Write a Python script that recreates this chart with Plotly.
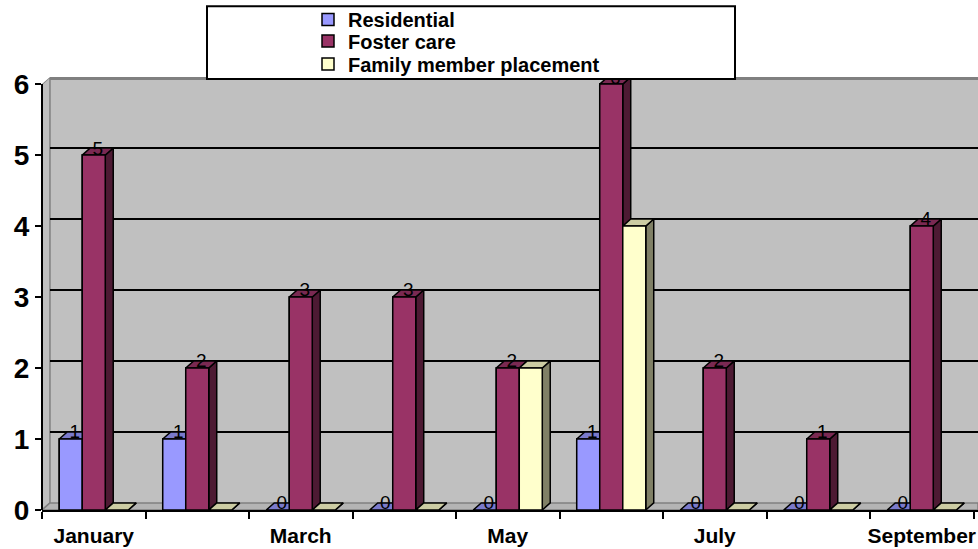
import plotly.graph_objects as go

months = ["January", "February", "March", "April", "May", "June", "July", "August", "September"]
residential = [1, 1, 0, 0, 0, 1, 0, 0, 0]
foster_care = [5, 2, 3, 3, 2, 6, 2, 1, 4]
family_member = [0, 0, 0, 0, 2, 4, 0, 0, 0]
y_ticks = [0, 1, 2, 3, 4, 5, 6]

series = [
    ("Residential", residential, "#9999FF", "#4D4D80", "#7A7ACC", True),
    ("Foster care", foster_care, "#993366", "#4D1A33", "#7A2952", True),
    ("Family member placement", family_member, "#FFFFCC", "#808066", "#CCCCA3", False),
]

FONT = "Arial, Liberation Sans, sans-serif"
W, H = 978, 549
ML, MR, MT, MB = 42, 0, 76, 39
BARGAP = 0.333
w = (1 - BARGAP) / 3
DX, DY = 0.077, 0.1
XMIN = -0.5
XMAX = XMIN + (W - ML - MR) / 103.5
YMAX = max(y_ticks) + DY

xs = list(range(len(months)))
fig = go.Figure()

legends = ["legend", "legend2", "legend3"]
for k, (name, vals, front, side, top, lab) in enumerate(series):
    fig.add_trace(go.Bar(
        x=xs, y=vals, name=name, marker=dict(color=front, line=dict(color="black", width=1.5)),
        legend=legends[k], hoverinfo="skip"))

for k, (name, vals, front, side, top, lab) in enumerate(series):
    off = (k - 1) * w
    sx, sy, tx, ty, fx, fy = [], [], [], [], [], []
    for i, v in enumerate(vals):
        xl = i + off - w / 2
        xr = i + off + w / 2
        sx += [xr, xr + DX, xr + DX, xr, xr, None]
        sy += [0, DY, v + DY, v, 0, None]
        tx += [xl, xl + DX, xr + DX, xr, xl, None]
        ty += [v, v + DY, v + DY, v, v, None]
        if v > 0:
            fx += [xl, xr, xr, xl, xl, None]
            fy += [0, 0, v, v, 0, None]
    for px, py, col in [(sx, sy, side), (tx, ty, top), (fx, fy, front)]:
        fig.add_trace(go.Scatter(
            x=px, y=py, mode="lines", fill="toself", fillcolor=col,
            line=dict(color="black", width=1.5), showlegend=False, hoverinfo="skip"))

for k, (name, vals, front, side, top, lab) in enumerate(series):
    if not lab:
        continue
    off = (k - 1) * w
    fig.add_trace(go.Scatter(
        x=[i + off + DX / 2 for i in xs], y=[v + 0.075 for v in vals],
        mode="text", text=[str(v) for v in vals], textposition="middle center",
        textfont=dict(family=FONT, size=19, color="black"),
        showlegend=False, hoverinfo="skip"))

shapes = []
# left wall
shapes.append(dict(type="path", xref="x", yref="y", layer="below",
                   path=f"M{XMIN},0 L{XMIN+DX},{DY} L{XMIN+DX},{YMAX} L{XMIN},{YMAX-DY} Z",
                   fillcolor="#C0C0C0", line=dict(color="#808080", width=1.5)))
# floor
shapes.append(dict(type="path", xref="x", yref="y", layer="below",
                   path=f"M{XMIN},0 L{XMIN+DX},{DY} L{XMAX},{DY} L{XMAX},0 Z",
                   fillcolor="#B4B4B4", line=dict(color="#808080", width=1.5)))
# white corner above left wall
shapes.append(dict(type="path", xref="x", yref="y", layer="below",
                   path=f"M{XMIN},{YMAX-DY} L{XMIN},{YMAX} L{XMIN+DX},{YMAX} Z",
                   fillcolor="white", line=dict(width=0)))
# back wall top edge
shapes.append(dict(type="line", xref="x", yref="y", layer="below",
                   x0=XMIN + DX, x1=XMAX, y0=YMAX - 0.02, y1=YMAX - 0.02,
                   line=dict(color="#808080", width=3)))
for t in y_ticks[1:-1]:
    shapes.append(dict(type="line", xref="x", yref="y", layer="below",
                       x0=XMIN + DX, x1=XMAX, y0=t + DY, y1=t + DY,
                       line=dict(color="black", width=2)))
# y axis line (front edge, up to the top tick)
shapes.append(dict(type="line", xref="paper", yref="y", layer="above",
                   x0=0, x1=0, y0=0, y1=max(y_ticks),
                   line=dict(color="black", width=2)))
# legend box
pw, ph = W - ML - MR, H - MT - MB
def px2x(p): return (p - ML) / pw
def py2y(p): return (H - MB - p) / ph
shapes.append(dict(type="rect", xref="paper", yref="paper", layer="above",
                   x0=px2x(207), x1=px2x(735), y0=py2y(78), y1=py2y(5),
                   fillcolor="white", line=dict(color="black", width=2)))

leg_common = dict(font=dict(family=FONT, size=20, color="black", weight="bold"),
                  bgcolor="rgba(0,0,0,0)", borderwidth=0,
                  xanchor="left", yanchor="middle", x=px2x(308))

fig.update_layout(
    width=W, height=H,
    margin=dict(l=ML, r=MR, t=MT, b=MB, pad=0),
    paper_bgcolor="white", plot_bgcolor="#C0C0C0",
    barmode="group", bargap=BARGAP, bargroupgap=0,
    shapes=shapes,
    legend=dict(**leg_common, y=py2y(18)),
    legend2=dict(**leg_common, y=py2y(41)),
    legend3=dict(**leg_common, y=py2y(64)),
    xaxis=dict(range=[XMIN, XMAX], tickvals=xs,
               ticktext=[m if i % 2 == 0 else "" for i, m in enumerate(months)],
               ticks="", showgrid=False, zeroline=False, ticklabelstandoff=6,
               showline=True, linecolor="black", linewidth=2,
               tickfont=dict(family=FONT, size=21, color="black", weight="bold"),
               minor=dict(tick0=-0.5, dtick=1, ticks="outside", ticklen=7,
                          tickcolor="black", tickwidth=2, showgrid=False)),
    yaxis=dict(range=[0, YMAX], tickvals=y_ticks, ticks="outside", ticklen=6,
               tickcolor="black", tickwidth=2, showgrid=False, zeroline=False,
               showline=False,
               tickfont=dict(family=FONT, size=28, color="black", weight="bold")),
)

fig.write_html("out.html")
